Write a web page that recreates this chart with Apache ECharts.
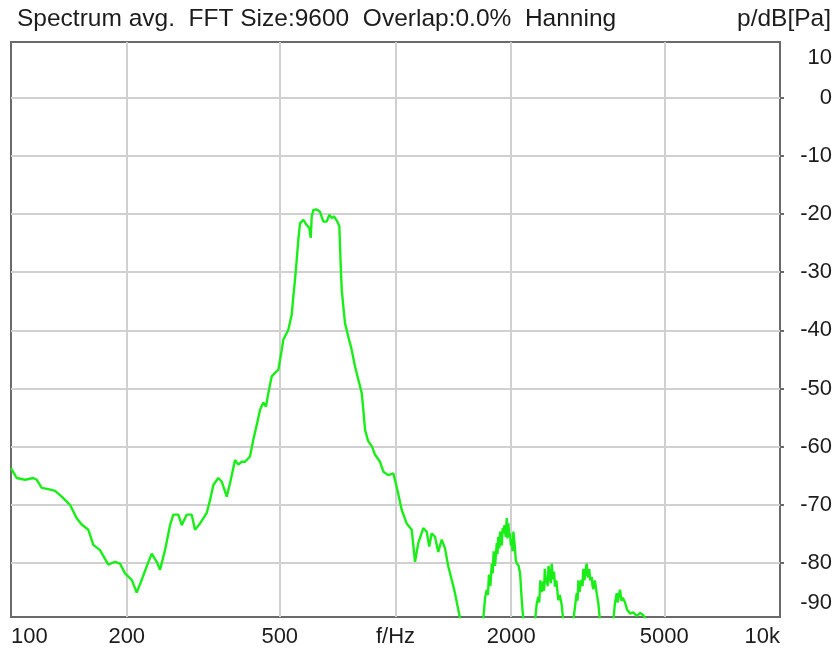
<!DOCTYPE html>
<html>
<head>
<meta charset="utf-8">
<script src="https://cdn.jsdelivr.net/npm/echarts@6/dist/echarts.min.js"></script>
<style>
html,body{margin:0;padding:0;background:#fff;}
#chart{width:836px;height:653px;}
</style>
</head>
<body>
<div id="chart"></div>
<script>
// Frequencies (Hz) and levels (dB re Pa)
const freqs = [100,103.5,108.8,114.3,116.7,120.2,125,130.2,135.5,142.4,148.2,152.7,158.9,163.7,170.4,179.1,186.4,192.1,197.9,206,212.3,218.8,225.4,232.3,239.3,244.1,251.5,259.2,264.3,272.4,278,286.4,295.1,301,310.2,322.9,329.3,335.9,346.1,353.2,364,371.2,382.5,390.2,398.1,406.1,418.4,426.8,435.5,444.2,453.1,460.5,466.9,476.5,486,495.7,505.9,510.8,526.3,537.1,542.3,547.8,553.4,558.8,564.5,575.8,587.6,596.9,601.9,605.5,611.3,623.9,636.4,649.1,662.4,672.8,682.6,692.1,705.9,714.4,717.4,720.4,724.7,731.7,739.2,754,769.5,784.9,800.5,817,824.9,833.3,848.4,869,884.7,911.6,929.8,957.8,986.9,1007,1038,1069,1102,1124,1146,1181,1205,1224,1242,1267,1292,1319,1345,1372,1400,1428,1457,1472,1500,1660,
  1692,1710,1727,1740,1750,1765,1780,1790,1800,1815,1834,1842,1850,1862,1871,1890,1900,1908,1920,1935,1947,1955,1960,1966,1976,1986,1995,2006,2016,2026,2045,2055,2067,2090,2109,2130,2151,2180,2280,
  2306,2330,2352,2365,2380,2400,2423,2435,2445,2460,2473,2487,2500,2520,2535,2548,2560,2570,2585,2599,2620,2651,2675,2705,2731,2760,2870,
  2900,2930,2960,2975,2990,3010,3030,3050,3065,3080,3100,3120,3142,3155,3170,3190,3210,3238,3255,3270,3300,3336,3370,3403,3440,3640,
  3685,3720,3761,3780,3800,3836,3870,3900,3953,4000,4073,4150,4240,4330,4411,4501,4600,10000];
const levels = [-63.7,-65.4,-65.7,-65.4,-65.7,-67.1,-67.3,-67.6,-68.6,-70.0,-72.3,-73.4,-74.3,-76.9,-77.8,-80.3,-79.8,-80.1,-81.8,-82.9,-85.1,-82.9,-80.6,-78.4,-79.8,-81.2,-77.8,-73.5,-71.7,-71.7,-73.5,-71.7,-71.7,-74.3,-73.2,-71.4,-69.2,-66.6,-65.4,-66.0,-68.6,-66.3,-62.3,-63.1,-62.6,-62.6,-61.7,-58.8,-56.3,-53.7,-52.4,-53.1,-50.8,-47.9,-47.3,-46.8,-43.4,-41.6,-39.9,-37.3,-34.2,-31.3,-27.9,-24.4,-21.6,-21.0,-21.9,-22.4,-24.1,-20.4,-19.3,-19.2,-19.6,-21.3,-21.3,-20.1,-20.7,-20.4,-21.3,-22.1,-25.6,-29.0,-33.0,-35.9,-38.8,-41.1,-43.4,-46.2,-48.5,-50.8,-53.7,-57.1,-59.0,-60.0,-61.4,-62.6,-64.3,-64.9,-64.6,-66.9,-70.9,-73.2,-74.3,-79.8,-76.6,-74.0,-74.6,-77.2,-74.9,-75.5,-78.1,-76.0,-77.5,-80.6,-82.9,-85.2,-88.1,-89.5,-96,-96,
  -89.5,-86.0,-84.6,-85.5,-82.0,-84.0,-80.1,-81.8,-78.0,-80.5,-76.6,-78.5,-75.5,-77.5,-74.6,-77.0,-74.0,-74.9,-73.5,-75.5,-72.3,-75.8,-76.0,-73.2,-75.5,-74.9,-77.0,-76.0,-78.0,-74.6,-77.5,-79.5,-80.1,-80.5,-81.8,-86.4,-90,-96,-96,
  -90,-87.0,-85.8,-86.8,-83.0,-85.0,-83.2,-84.8,-81.0,-83.5,-82.4,-84.0,-80.5,-82.5,-83.5,-80.1,-82.0,-82.8,-81.5,-84.1,-83.0,-86.4,-85.5,-87.2,-90,-96,-96,
  -90,-87.5,-85.2,-86.5,-83.0,-85.0,-83.5,-82.9,-84.0,-81.0,-83.0,-81.5,-80.1,-82.0,-82.5,-81.0,-83.0,-82.4,-84.0,-84.5,-83.0,-85.2,-87.0,-90,-96,-96,
  -90,-87.0,-85.2,-86.8,-86.5,-84.6,-86.5,-86.0,-86.8,-88.0,-88.7,-88.5,-89.1,-88.6,-89.0,-90,-96,-96];

const xTickValues = [100,200,500,1000,2000,5000,10000];
const xTickLabels = ['100','200','500','f/Hz','2000','5000','10k'];
const xGridValues = [200,500,1000,2000,5000];
const yGridValues = [0,-10,-20,-30,-40,-50,-60,-70,-80];
const yMax = 9.6, yMin = -89.3;
const yTopLabel = '10', yBottomLabel = '-90';

const titleText = 'Spectrum avg.  FFT Size:9600  Overlap:0.0%  Hanning';
const unitText = 'p/dB[Pa]';

const FONT = 'Liberation Sans, Arial, sans-serif';
const TXT = '#1c1c1c';

const chart = echarts.init(document.getElementById('chart'), null, {renderer:'canvas'});
const data = freqs.map((f,i)=>[Math.log10(f), levels[i]]);

chart.setOption({
  animation:false,
  backgroundColor:'#ffffff',
  title:[
    {text:titleText, left:17, top:7, padding:0, textStyle:{fontSize:24.5, fontWeight:'normal', color:TXT, fontFamily:FONT}},
    {text:unitText, right:5, top:7, padding:0, textStyle:{fontSize:24.5, fontWeight:'normal', color:TXT, fontFamily:FONT}}
  ],
  grid:{left:11, top:42, right:56, bottom:36, show:true, borderColor:'#6a6a6a', borderWidth:2, backgroundColor:'#ffffff', containLabel:false},
  xAxis:{
    type:'value', min:2, max:4,
    axisLine:{show:false},
    axisTick:{show:false, customValues: xGridValues.map(v=>Math.log10(v))},
    splitLine:{show:true, lineStyle:{color:'#d0d0d0', width:2}},
    axisLabel:{
      customValues: xTickValues.map(v=>Math.log10(v)),
      formatter:function(v){
        const f = Math.round(Math.pow(10,v));
        const i = xTickValues.indexOf(f);
        return i>=0 ? xTickLabels[i] : '';
      },
      alignMinLabel:'left', alignMaxLabel:'right',
      margin:9, fontSize:22, color:TXT, fontFamily:FONT
    }
  },
  yAxis:{
    type:'value', position:'right', min:yMin, max:yMax,
    axisLine:{show:false},
    axisTick:{show:true, length:4, customValues:yGridValues, lineStyle:{color:'#6a6a6a', width:2}},
    splitLine:{show:true, lineStyle:{color:'#d0d0d0', width:2}},
    axisLabel:{
      customValues:[yMax].concat(yGridValues).concat([yMin]),
      formatter:function(v){
        if (v > 5) return '{t|'+yTopLabel+'}';
        if (v < -85) return '{b|'+yBottomLabel+'}';
        return String(Math.round(v));
      },
      align:'right', margin:52, fontSize:22, color:TXT, fontFamily:FONT,
      rich:{
        t:{fontSize:22, color:TXT, fontFamily:FONT, padding:[32,0,0,0]},
        b:{fontSize:22, color:TXT, fontFamily:FONT, padding:[0,0,28,0]}
      }
    }
  },
  series:[{
    type:'line', data:data, showSymbol:false, symbol:'none', clip:true,
    lineStyle:{color:'#19ee19', width:2.4}, itemStyle:{color:'#19ee19'}
  }]
});
</script>
</body>
</html>
